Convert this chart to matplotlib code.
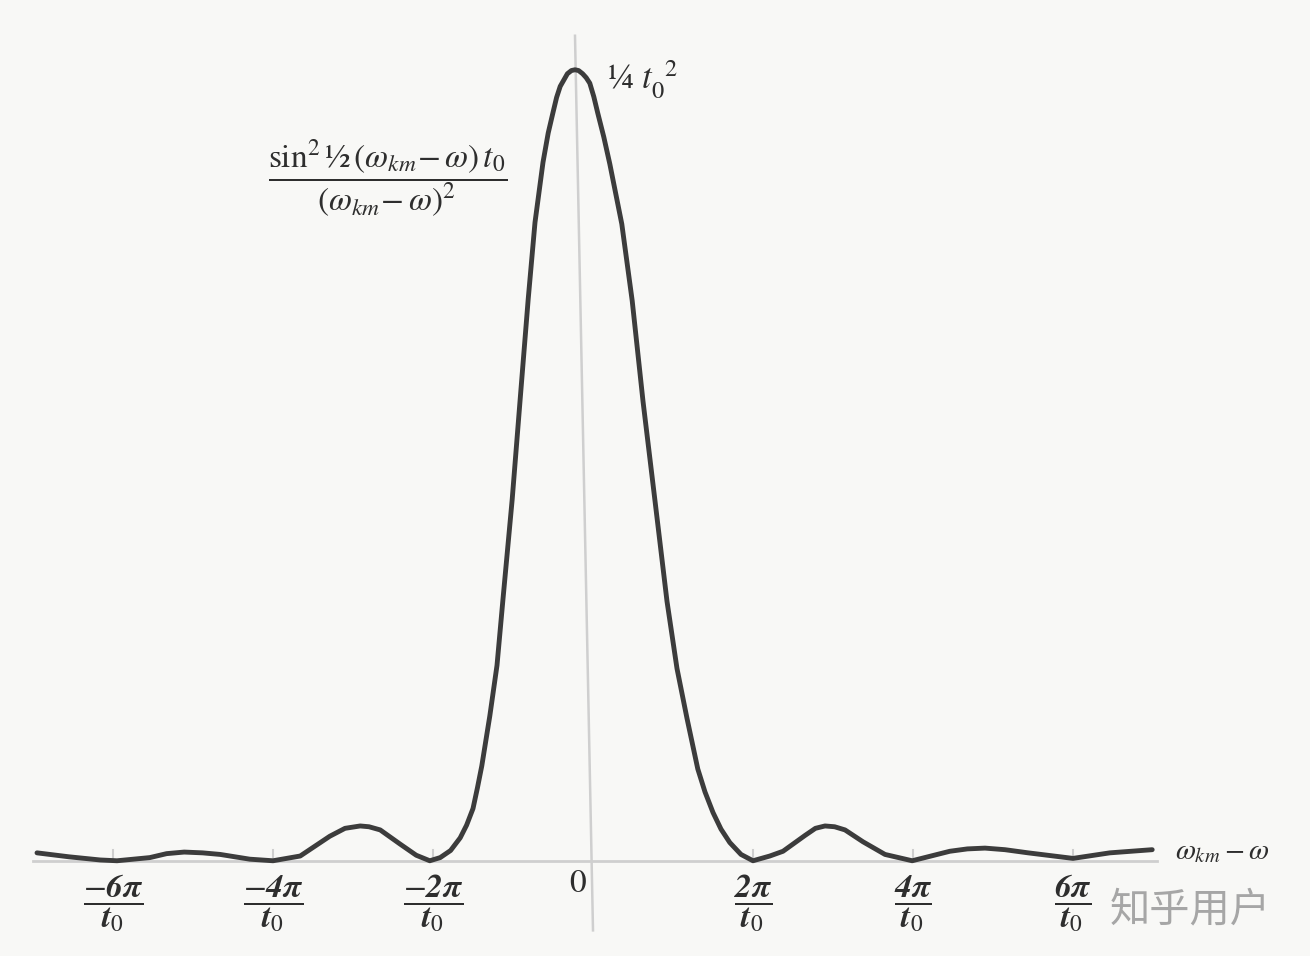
import numpy as np
import matplotlib.pyplot as plt

plt.rcParams['mathtext.fontset'] = 'stix'
plt.rcParams['font.family'] = ['STIXGeneral', 'DejaVu Serif']

# x in units of pi/t0, y in units of t0^2/4
x_vals = [-6.95, -6.55, -6.16, -5.95, -5.54, -5.33, -5.11, -4.88, -4.66, -4.29, -4.00,
          -3.66, -3.29, -3.10, -2.91, -2.80, -2.66, -2.41, -2.21, -2.04, -1.91,
          -1.78, -1.66, -1.58, -1.50, -1.445, -1.39, -1.29, -1.20, -1.125,
          -1.01, -0.91, -0.81, -0.725, -0.625, -0.56, -0.50, -0.455, -0.41,
          -0.32, -0.27, -0.225, -0.18, -0.13, -0.085, -0.04, 0.01, 0.06,
          0.135, 0.21, 0.36, 0.49, 0.625, 0.775, 0.925, 1.05, 1.175, 1.31,
          1.40, 1.50, 1.60, 1.71, 1.85, 2.00, 2.21, 2.375, 2.65, 2.78, 2.90,
          3.02, 3.15, 3.375, 3.65, 3.99, 4.46, 4.68, 4.90, 5.15, 5.44, 6.00, 6.46, 6.99]
y_vals = [0.010, 0.005, 0.001, 0.000, 0.004, 0.009, 0.011, 0.010, 0.008, 0.002, 0.000,
          0.006, 0.031, 0.041, 0.044, 0.043, 0.039, 0.021, 0.007, 0.000, 0.004,
          0.013, 0.029, 0.045, 0.066, 0.092, 0.120, 0.183, 0.247, 0.331,
          0.457, 0.584, 0.710, 0.807, 0.883, 0.920, 0.946, 0.965, 0.979,
          0.995, 0.999, 1.000, 0.999, 0.995, 0.990, 0.983, 0.966, 0.945,
          0.915, 0.881, 0.805, 0.708, 0.581, 0.455, 0.328, 0.243, 0.180, 0.116,
          0.087, 0.061, 0.040, 0.023, 0.008, 0.000, 0.006, 0.012, 0.032, 0.041, 0.044,
          0.043, 0.039, 0.024, 0.008, 0.000, 0.012, 0.015, 0.016, 0.014, 0.010, 0.003,
          0.010, 0.014]

tick_pos = [-6, -4, -2, 2, 4, 6]
tick_labels = [r'$\dfrac{-\mathbfit{6\pi}}{\mathbfit{t}_0}$', r'$\dfrac{-\mathbfit{4\pi}}{\mathbfit{t}_0}$',
               r'$\dfrac{-\mathbfit{2\pi}}{\mathbfit{t}_0}$', r'$\dfrac{\mathbfit{2\pi}}{\mathbfit{t}_0}$',
               r'$\dfrac{\mathbfit{4\pi}}{\mathbfit{t}_0}$', r'$\dfrac{\mathbfit{6\pi}}{\mathbfit{t}_0}$']

fig = plt.figure(figsize=(13.1, 9.56), dpi=100)
fig.patch.set_facecolor('#f8f8f6')
ax = fig.add_axes([0, 0, 1, 1])
ax.set_facecolor('#f8f8f6')
ax.set_xlim(-7.4125, 8.9625)
ax.set_ylim(-0.1204, 1.0882)
ax.axis('off')

# axes of the scanned figure
axis_col = '#cfcfcf'
ax.plot([-7.0, 7.05], [0, 0], color=axis_col, lw=2, zorder=1)
ax.plot([-0.225, 0.0], [1.043, -0.088], color=axis_col, lw=1.8, zorder=1)
for t in tick_pos:
    ax.plot([t, t], [0, 0.013], color=axis_col, lw=1.5, zorder=1)

ax.plot(x_vals, y_vals, color='#3c3c3c', lw=3.5, solid_capstyle='round',
        solid_joinstyle='round', zorder=3)

for t, lab in zip(tick_pos, tick_labels):
    ax.text(t, -0.054, lab, ha='center', va='center', fontsize=24, color='#2e2e2e')
ax.text(-0.19, -0.030, '0', ha='center', va='center', fontsize=24, color='#2e2e2e')

ax.text(0.17, 0.987, r'¼ $t_0^{\;\;2}$', ha='left', va='center', fontsize=25, color='#2e2e2e')
ax.text(-2.56, 0.863,
        r'$\dfrac{\mathrm{sin}^2\,\mathrm{½}\,(\omega_{km}\!-\omega)\,t_0}{(\omega_{km}\!-\omega)^2}$',
        ha='center', va='center', fontsize=24, color='#2e2e2e')
ax.text(7.27, 0.011, r'$\omega_{km}-\omega$', ha='left', va='center', fontsize=21,
        color='#2e2e2e')

ax.text(6.46, -0.062, '知乎用户', ha='left', va='center', fontsize=29, color='#a6a6a6',
        family=['Noto Sans CJK SC', 'DejaVu Sans'], fontweight='light')

fig.savefig('out.png', dpi=100, facecolor=fig.get_facecolor())
